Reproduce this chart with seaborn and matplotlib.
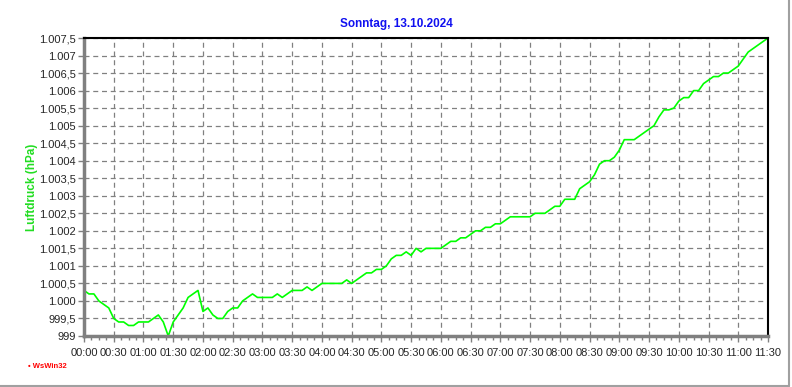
import matplotlib
matplotlib.use("Agg")
import matplotlib.pyplot as plt
import matplotlib.ticker as mticker
from matplotlib.lines import Line2D
import seaborn as sns
import numpy as np
import pandas as pd

# minutes since midnight, 5 minute steps
minutes = list(range(0, 695, 5))
pressure = [
    1000.3, 1000.2, 1000.2, 1000.0, 999.9, 999.8, 999.5, 999.4, 999.4, 999.3,
    999.3, 999.4, 999.4, 999.4, 999.5, 999.6, 999.4, 999.0, 999.4, 999.6,
    999.8, 1000.1, 1000.2, 1000.3, 999.7, 999.8, 999.6, 999.5, 999.5, 999.7,
    999.8, 999.8, 1000.0, 1000.1, 1000.2, 1000.1, 1000.1, 1000.1, 1000.1, 1000.2,
    1000.1, 1000.2, 1000.3, 1000.3, 1000.3, 1000.4, 1000.3, 1000.4, 1000.5, 1000.5,
    1000.5, 1000.5, 1000.5, 1000.6, 1000.5, 1000.6, 1000.7, 1000.8, 1000.8, 1000.9,
    1000.9, 1001.0, 1001.2, 1001.3, 1001.3, 1001.4, 1001.3, 1001.5, 1001.4, 1001.5,
    1001.5, 1001.5, 1001.5, 1001.6, 1001.7, 1001.7, 1001.8, 1001.8, 1001.9, 1002.0,
    1002.0, 1002.1, 1002.1, 1002.2, 1002.2, 1002.3, 1002.4, 1002.4, 1002.4, 1002.4,
    1002.4, 1002.5, 1002.5, 1002.5, 1002.6, 1002.7, 1002.7, 1002.9, 1002.9, 1002.9,
    1003.2, 1003.3, 1003.4, 1003.6, 1003.9, 1004.0, 1004.0, 1004.1, 1004.3, 1004.6,
    1004.6, 1004.6, 1004.7, 1004.8, 1004.9, 1005.0, 1005.25, 1005.45, 1005.45, 1005.5,
    1005.7, 1005.8, 1005.8, 1006.0, 1006.0, 1006.2, 1006.3, 1006.4, 1006.4, 1006.5,
    1006.5, 1006.6, 1006.7, 1006.9, 1007.1, 1007.2, 1007.3, 1007.4, 1007.5,
]
x_ticks = list(range(0, 691, 30))
x_labels = ["%02d:%02d" % (m // 60, m % 60) for m in x_ticks]
y_ticks = [999 + 0.5 * i for i in range(18)]

title = "Sonntag, 13.10.2024"
ylabel = "Luftdruck (hPa)"

df = pd.DataFrame({"t": minutes, "p": pressure})

sns.set_style("white")
plt.rcParams["font.family"] = ["Liberation Sans", "DejaVu Sans"]

fig = plt.figure(figsize=(7.92, 3.87), dpi=100)
ax = fig.add_axes([84 / 792, 1 - 336 / 387, 684 / 792, 298 / 387])

sns.lineplot(data=df, x="t", y="p", ax=ax, color="#00FF00", linewidth=1.2)

ax.set_xlim(0, 690)
ax.set_ylim(999, 1007.5)
ax.set_xticks(x_ticks)
ax.set_xticklabels(x_labels)
ax.xaxis.set_minor_locator(mticker.MultipleLocator(7.5))
ax.set_yticks(y_ticks)


def de_fmt(v, pos):
    s = "{:,.1f}".format(v).replace(",", "X").replace(".", ",").replace("X", ".")
    if s.endswith(",0"):
        s = s[:-2]
    return s


ax.yaxis.set_major_formatter(mticker.FuncFormatter(de_fmt))

ax.grid(True, which="major", color="#808080", linestyle=(0, (4, 3)), linewidth=0.9)
ax.tick_params(axis="both", which="major", labelsize=8, color="#808080",
               length=4, width=1, direction="out", pad=2, left=True, bottom=True)
ax.tick_params(axis="x", which="minor", color="#808080", length=3, width=1,
               direction="out", bottom=True)
ax.tick_params(axis="x", pad=5)

for side in ("left", "bottom"):
    ax.spines[side].set_color("#808080")
    ax.spines[side].set_linewidth(2.5)
for side in ("top", "right"):
    ax.spines[side].set_color("black")
    ax.spines[side].set_linewidth(1.5)

ax.set_xlabel("")
ax.set_ylabel("")
fig.text(396 / 792, 1 - 24 / 387, title, color="#1010F0", fontsize=8.5,
         fontweight="bold", ha="center", va="center")
fig.text(32 / 792, 1 - 187 / 387, ylabel, color="#22DD22", fontsize=8.5,
         fontweight="bold", rotation=90, ha="center", va="center")
fig.text(28 / 792, 1 - 366 / 387, "\u2022 WsWin32", color="red", fontsize=5.5,
         fontweight="bold", ha="left", va="center")

# panel border (right and bottom)
fig.add_artist(Line2D([0, 788.5 / 792], [1.5 / 387, 1.5 / 387], color="#A0A0A0",
                      linewidth=1.5, transform=fig.transFigure))
fig.add_artist(Line2D([788.5 / 792, 788.5 / 792], [1.5 / 387, 1], color="#A0A0A0",
                      linewidth=1.5, transform=fig.transFigure))

fig.savefig("out.png", dpi=100)
